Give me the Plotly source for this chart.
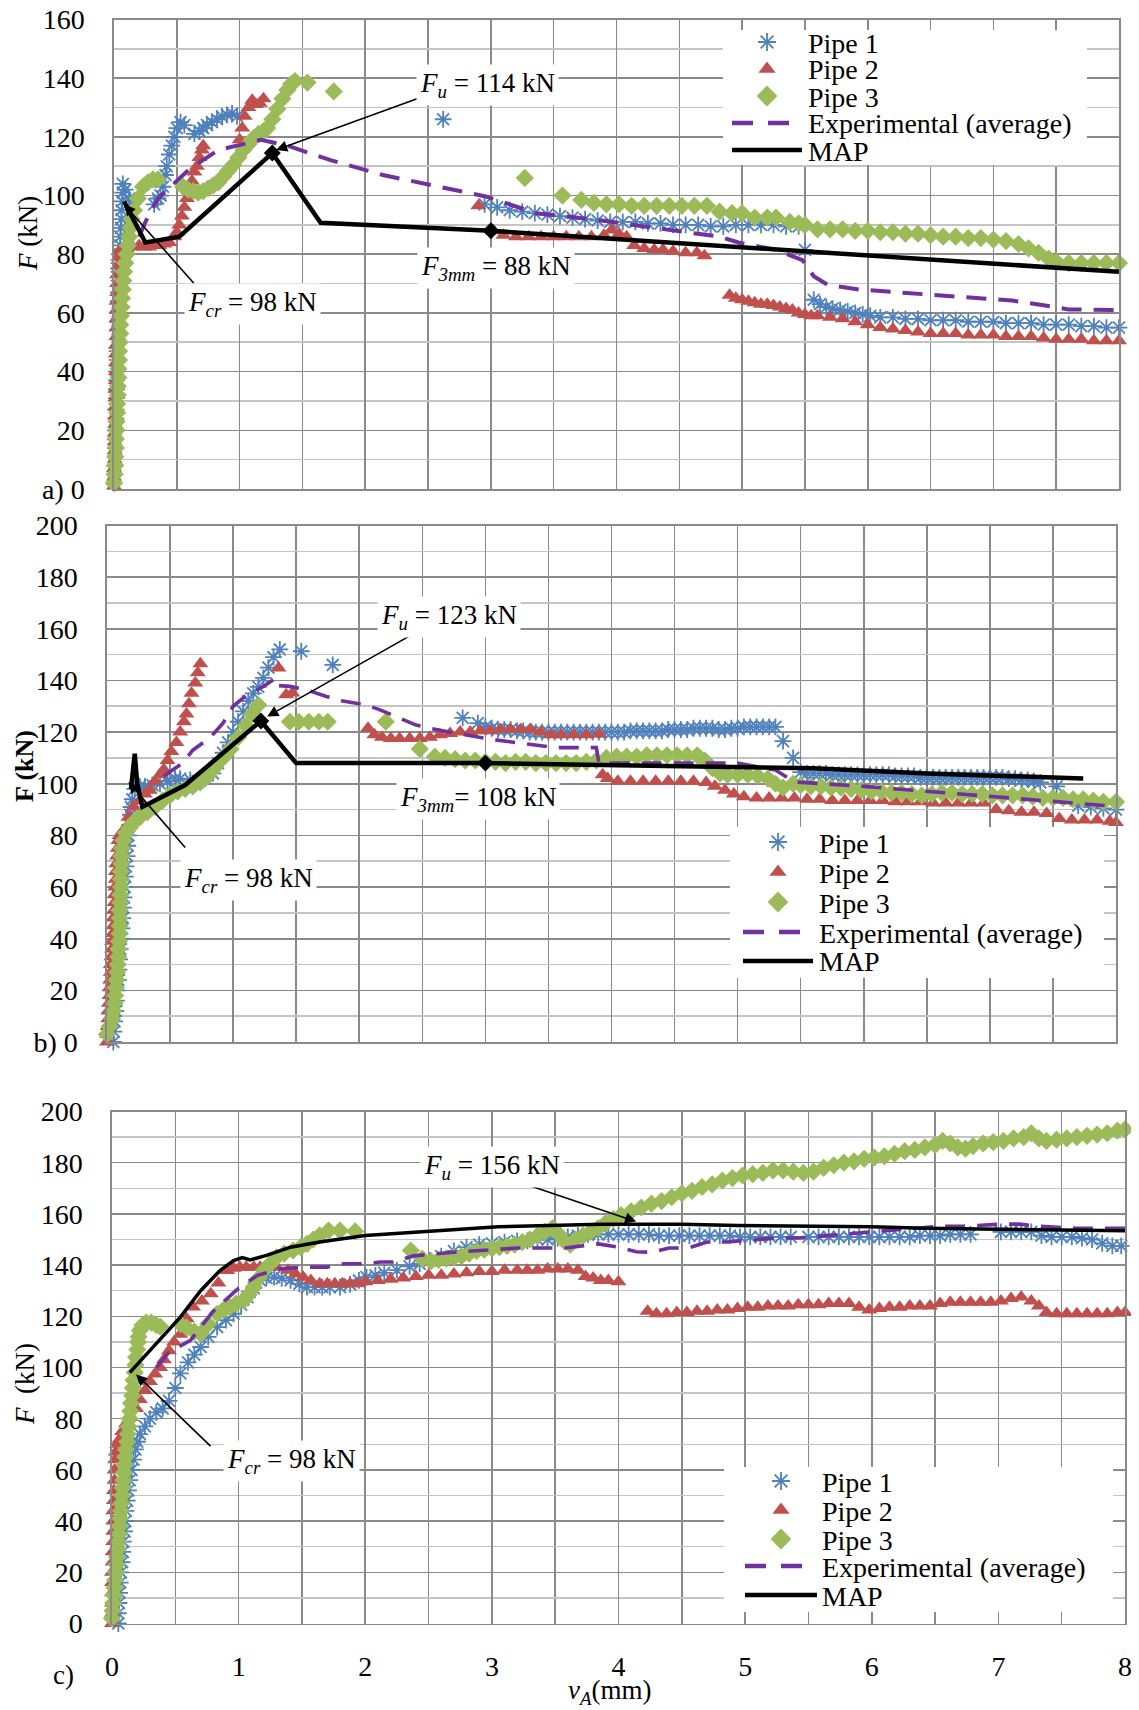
import plotly.graph_objects as go

W, H = 1139, 1710
OFF = 8  # default page margin of the html body, compensated so page pixels match the reference
SERIF = "Liberation Serif"
BLUE, RED, GREEN, PURPLE = "#4F81BD", "#C0504D", "#9BBB59", "#7030A0"
GRID_D, GRID_L = "#8A8A8A", "#C4C4C4"

# ---------------- data: panel a ----------------
A_PIPE1 = [(0.0,2),(0.005,5),(0.005,8),(0.01,11),(0.01,14),(0.01,17),(0.01,20),(0.015,24),(0.015,27),(0.02,31),(0.02,34),
           (0.02,37),(0.02,40),(0.025,44),(0.025,47),(0.03,51),(0.03,54),(0.03,57),(0.03,60),(0.035,64),(0.035,67),
           (0.04,71),(0.04,74),(0.04,77),(0.045,80),(0.05,83),(0.05,86),(0.055,89),(0.06,92),(0.06,95),(0.065,98),
           (0.07,101),(0.07,104),(0.09,102),(0.12,99),(0.15,97),
           (0.32,97),(0.35,99),(0.37,100),(0.39,103),(0.41,107),(0.42,110),(0.44,114),(0.46,117),(0.48,120),(0.5,123),
           (0.53,125),(0.56,124),(0.64,121),(0.68,122),(0.71,123),(0.74,124),(0.78,125),(0.82,126),(0.86,127),(0.9,127.5),
           (0.94,128),(0.98,127),(2.62,126),
           (2.95,97),(3.05,96),(3.15,95),(3.25,94.5),(3.35,94),(3.45,93.5),(3.55,93),(3.65,92.5),(3.75,92),(3.85,91.5),
           (3.95,91),(4.05,91),(4.15,91),(4.25,90.5),(4.35,90.5),(4.45,90),(4.55,90),(4.65,90),(4.75,89.5),(4.85,89.5),
           (4.95,90),(5.05,90),(5.15,90),(5.25,90),(5.35,89.5),(5.45,89.5),(5.5,81.5),
           (5.57,64.5),(5.62,63),(5.67,62),(5.72,61.5),(5.78,61),(5.84,60.5),(5.9,60),(5.96,59.5),(6.02,59),(6.1,58.5),
           (6.2,58.5),(6.3,58),(6.4,58),(6.5,57.5),(6.6,57.5),(6.7,57.5),(6.8,57),(6.9,57),(7.0,57),(7.1,56.5),(7.2,56.5),
           (7.3,56.5),(7.4,56),(7.5,56),(7.6,56),(7.7,55.5),(7.8,55.5),(7.9,55),(8.0,55)]
A_PIPE2 = [(0.0,1),(0.0,4),(0.0,7),(0.005,10),(0.005,13),(0.005,16),(0.005,19),(0.01,22),(0.01,25),(0.01,28),(0.01,31),
           (0.01,34),(0.015,37),(0.015,40),(0.015,43),(0.015,46),(0.015,49),(0.02,52),(0.02,55),(0.02,58),(0.02,61),
           (0.02,64),(0.025,67),(0.025,70),(0.025,73),(0.03,76),(0.035,79),(0.04,81),(0.07,82),(0.1,82),(0.15,82.5),
           (0.2,83),(0.24,82.5),(0.28,82.5),(0.32,83),(0.36,83),(0.4,83.5),(0.44,84),(0.48,86),(0.5,87.5),(0.52,90),
           (0.54,93),(0.56,96),(0.58,99),(0.6,102),(0.62,105),(0.64,108),(0.66,110),(0.68,113),(0.7,115.5),(0.71,117),
           (1.0,119),(1.02,123),(1.04,127),(1.07,130),(1.1,132.5),(1.13,131),(1.16,131.5),(1.19,133),
           (2.9,96.5),(3.02,88),(3.1,86.5),(3.2,86),(3.3,86),(3.4,86),(3.5,86),(3.6,86),(3.7,86),(3.8,86),(3.9,86.5),
           (3.96,88.3),(4.02,87),(4.08,86),(4.14,83),(4.22,82),(4.3,81.5),(4.37,81.5),(4.45,81),(4.55,80.5),(4.64,80.5),
           (4.7,79.5),
           (4.9,66),(4.95,65),(5.0,64.5),(5.05,64),(5.1,63.5),(5.15,63),(5.2,63),(5.25,62.5),(5.3,62),(5.35,61.5),
           (5.4,61),(5.45,60),(5.5,59.5),(5.55,59),(5.6,59),(5.7,58.5),(5.8,58),(5.9,57),(6.0,56),(6.1,55),(6.2,54.5),
           (6.3,54),(6.4,53.5),(6.5,53),(6.6,53),(6.7,53),(6.8,52.5),(6.9,52.5),(7.0,52.5),(7.1,52),(7.2,52),(7.3,52),
           (7.4,51.5),(7.5,51),(7.6,51),(7.7,51),(7.8,50.5),(7.9,50.5),(8.0,50.5)]
A_PIPE3 = [(0.0,2),(0.005,5),(0.01,8),(0.01,11),(0.015,14),(0.015,17),(0.02,20),(0.02,23),(0.025,26),(0.025,29),
           (0.03,32),(0.03,35),(0.035,38),(0.035,41),(0.04,44),(0.04,47),(0.045,50),(0.05,53),(0.05,56),(0.055,59),
           (0.06,62),(0.065,65),(0.07,68),(0.075,71),(0.08,74),(0.09,77),(0.1,80),(0.11,83),(0.12,86),(0.13,89),
           (0.14,92),(0.16,95),(0.19,99),(0.23,103),(0.27,104.5),(0.31,105.5),(0.35,105.5),
           (0.55,103),(0.59,102),(0.63,101.5),(0.67,101),(0.71,101.5),(0.75,102.5),(0.79,103.5),(0.83,104.5),(0.87,106.5),
           (0.91,108.5),(0.95,110.5),(0.99,113),(1.03,115.5),(1.07,117.5),(1.11,119.5),(1.15,121),(1.19,122),(1.22,123),
           (1.26,126),(1.3,129.5),(1.34,133),(1.38,136),(1.41,138),(1.44,139),(1.54,138.5),(1.75,135.5),
           (3.27,106),(3.57,100),(3.72,98.5),(3.82,97.5),(3.92,97),(4.02,97),(4.12,96.5),(4.22,96.5),(4.32,96.5),
           (4.42,96.5),(4.52,96.5),(4.62,96.5),(4.72,96.5),(4.82,94.5),(4.92,94),(5.0,94),(5.1,92.5),(5.2,92.5),
           (5.27,92.5),(5.38,91),(5.45,90.5),(5.5,90),(5.6,88.5),(5.7,88.5),(5.8,88.5),(5.9,88),(6.0,88),(6.1,87.5),
           (6.2,87.5),(6.3,87),(6.4,87),(6.5,86.5),(6.6,86),(6.7,86),(6.8,85.5),(6.9,85.5),(7.0,85),(7.1,84.5),(7.2,83.5),
           (7.28,82),(7.36,80.5),(7.44,78.5),(7.5,77.5),(7.6,77),(7.7,77),(7.8,77),(7.9,77),(8.0,77)]
A_EXP = [(0.2,86),(0.25,91),(0.35,99),(0.6,109),(0.83,115.5),(1.17,119),(1.38,117),
         (1.73,112),(2.14,107),(2.96,99.7),(3.36,94),(3.85,91.7),(4.3,89),(4.82,86),(4.97,84),(5.27,81.5),(5.48,78),
         (5.57,72.5),(5.68,69.6),(5.93,68),(6.31,66.8),(6.76,65.3),(7.15,64.2),(7.36,62.9),(7.6,61.2),(8.0,61)]
A_MAP = [(0.08,98),(0.25,84),(0.52,86),(1.26,114.5),(1.645,90.7),(3.0,88),(8.0,74)]
A_KEY = [(1.26,114.5),(3.0,88)]

# ---------------- data: panel b ----------------
B_PIPE1 = [(0.05,0),(0.055,4),(0.06,8),(0.07,12),(0.075,16),(0.08,20),(0.09,24),(0.095,28),(0.1,32),(0.105,36),
           (0.11,40),(0.12,44),(0.125,48),(0.13,52),(0.135,56),(0.14,60),(0.145,64),(0.15,68),(0.16,72),(0.165,76),
           (0.17,80),(0.18,84),(0.185,88),(0.19,91),(0.2,94),(0.22,98),(0.26,99),(0.3,99),(0.36,99.5),(0.42,100),
           (0.48,101),(0.54,102),(0.58,102),(0.66,101.5),(0.72,101),(0.78,102),(0.84,104),(0.88,108),(0.92,112),
           (0.96,116),(1.0,120),(1.04,124),(1.08,128),(1.12,132),(1.16,135),(1.2,137.5),(1.24,141),(1.28,145),
           (1.32,149),(1.37,152),(1.54,151.3),(1.79,146),
           (2.82,125.5),(2.94,123.5),(3.0,122),(3.05,121.5),(3.1,121),(3.15,121),(3.2,121),(3.25,120.5),(3.3,120.5),
           (3.35,120),(3.4,120),(3.45,120),(3.5,120),(3.55,120),(3.6,120),(3.65,120),(3.7,120),(3.75,120),(3.8,120),
           (3.85,120),(3.9,120),(3.95,120),(4.0,120),(4.05,120),(4.1,120),(4.15,120.5),(4.2,120.5),(4.25,120.5),
           (4.3,120.5),(4.35,120.5),(4.4,120.5),(4.45,121),(4.5,121),(4.55,121),(4.6,121),(4.65,121.5),(4.7,121.5),
           (4.75,121.5),(4.8,121.5),(4.85,121),(4.9,121),(4.95,121.5),(5.0,121.5),(5.05,122),(5.1,122),(5.15,122),
           (5.2,122),(5.25,122),(5.3,122),(5.36,116.5),(5.44,110),(5.5,104.5),
           (5.55,104),(5.6,104),(5.65,104),(5.7,104),(5.75,103.5),(5.8,103.5),(5.85,103.5),(5.9,103.5),(5.95,103.5),
           (6.0,103.5),(6.05,103.5),(6.1,103.5),(6.15,103.5),(6.2,103.5),(6.25,103),(6.3,103),(6.35,103),(6.4,103),
           (6.45,102.5),(6.5,102.5),(6.55,102.5),(6.6,102.5),(6.65,102.5),(6.7,102.5),(6.75,102.5),(6.8,102.5),
           (6.85,102.5),(6.9,102.5),(6.95,102.5),(7.0,102.5),(7.05,102.5),(7.1,102.5),(7.15,102),(7.2,102),(7.25,101.5),
           (7.3,101.5),(7.35,101),(7.4,100.5),(7.53,99),(7.7,91.5),(7.8,91),(7.9,90.5),(8.0,90)]
B_PIPE2 = [(0.0,0),(0.0,3),(0.005,6),(0.01,9),(0.01,12),(0.015,15),(0.02,18),(0.02,21),(0.025,24),(0.03,27),(0.03,30),
           (0.035,33),(0.04,36),(0.04,39),(0.045,42),(0.05,45),(0.05,48),(0.055,51),(0.06,54),(0.06,57),(0.065,60),
           (0.07,63),(0.07,66),(0.075,69),(0.08,72),(0.085,75),(0.09,78),(0.1,80),(0.13,82),(0.17,87),(0.21,91),
           (0.26,93.5),(0.3,96),(0.34,97.5),(0.38,101),(0.42,103.5),(0.45,105.5),(0.48,109),(0.51,112.5),(0.55,116),
           (0.58,120),(0.61,124),(0.63,127),(0.65,131),(0.67,135),(0.7,139),(0.72,143),(0.74,146.5),
           (1.36,144.8),(1.42,134.5),(1.47,135.1),
           (2.07,121.5),(2.12,119),(2.18,118),(2.25,117.5),(2.32,117.5),(2.4,117.5),(2.48,117.5),(2.56,118),(2.64,119),
           (2.72,119.5),(2.8,120),(2.88,120),(2.96,120.5),(3.04,120.5),(3.12,121),(3.2,121),(3.28,121),(3.36,121),
           (3.44,120),(3.52,119),(3.6,119),(3.7,119),(3.8,119),(3.9,119.3),
           (3.93,103.5),(3.97,102),(4.05,101),(4.15,101),(4.25,101),(4.35,101),(4.45,101),(4.55,101),(4.65,101),
           (4.75,100.5),(4.82,99),(4.9,97.5),(4.97,96),(5.05,95),(5.15,94.5),(5.25,94.5),(5.35,94.5),(5.45,94.5),
           (5.55,94),(5.65,94),(5.75,93.5),(5.85,93.5),(5.95,93.5),(6.05,93.5),(6.15,93.5),(6.25,93),(6.35,93),(6.45,93),
           (6.55,92.5),(6.65,92.5),(6.75,92.5),(6.85,92.5),(6.95,92.5),(7.05,90),(7.15,89.5),(7.25,89),(7.35,89),
           (7.45,88.5),(7.55,86.5),(7.65,86),(7.75,86),(7.85,86),(7.95,85.5),(8.0,85)]
B_PIPE3 = [(0.0,3),(0.02,6),(0.04,9),(0.05,12),(0.06,15),(0.065,18),(0.07,21),(0.075,24),(0.08,27),(0.085,30),
           (0.09,33),(0.09,36),(0.095,39),(0.1,42),(0.1,45),(0.1,48),(0.1,51),(0.105,54),(0.105,57),(0.11,60),(0.11,63),
           (0.11,66),(0.115,69),(0.115,72),(0.12,75),(0.13,78),(0.15,81),(0.18,83),(0.2,84.5),(0.23,86),(0.26,87),
           (0.32,89),(0.38,91),(0.44,93.5),(0.5,95.5),(0.56,97),(0.62,98),(0.68,99),(0.74,100.5),(0.8,103),(0.86,106.5),
           (0.92,110),(0.98,113.5),(1.04,118),(1.1,122.5),(1.15,127),(1.2,130.5),
           (1.45,124),(1.52,124),(1.6,124),(1.68,124),(1.75,124),(2.21,124),(2.48,113.5),(2.6,110.5),(2.68,110),
           (2.76,109.5),(2.84,109),(2.92,109),(3.0,108.5),(3.08,108.5),(3.16,108),(3.24,108.5),(3.32,108.5),(3.4,108),
           (3.48,108),(3.56,108),(3.64,108),(3.72,108),(3.8,108.5),(3.88,109),(3.96,110),(4.04,110.5),(4.12,110.5),
           (4.2,110.5),(4.28,111),(4.36,111),(4.44,111),(4.52,111),(4.6,111),(4.68,111),(4.74,109),(4.8,106),(4.86,104),
           (4.92,103.5),(5.0,103.5),(5.08,103.5),(5.16,103),(5.24,102),(5.3,100),(5.36,98.5),(5.44,100),(5.5,99.5),
           (5.58,99),(5.66,99),(5.74,98.5),(5.82,98.5),(5.9,98),(5.98,97.5),(6.06,97),(6.14,97),(6.22,96.5),(6.3,96.5),
           (6.38,96),(6.46,95.5),(6.54,96),(6.62,96.5),(6.7,96.5),(6.78,96),(6.86,96),(6.94,96),(7.02,95.5),(7.1,95.5),
           (7.18,95.5),(7.26,95.5),(7.34,95),(7.42,94.5),(7.5,94.5),(7.58,94.5),(7.66,94),(7.74,94),(7.82,93.5),
           (7.9,93),(8.0,93)]
B_EXP = [(0.45,103),(0.6,108),(0.68,113),(0.82,118),(0.92,123.5),(1.0,130),(1.1,134),
         (1.24,137.7),(1.34,141),(1.36,138),(1.45,137.7),(1.58,136.4),(1.74,133.8),(1.87,132),(2.05,130.6),(2.16,128.7),
         (2.45,122.7),(2.64,120.7),(3.03,117.3),(3.24,116),(3.55,114),(3.88,114),(3.9,108),(4.76,108),(5.0,108),
         (5.3,105.3),(5.45,100.7),(6.0,99),(6.6,96.7),(7.5,93.3),(7.98,91.3)]
B_MAP = [(0.19,98),(0.22,111.6),(0.24,100),(0.28,91),(0.62,99.5),(1.22,124.3),(1.5,108),(3.0,108),(4.3,107),
         (5.6,106),(6.5,104),(7.74,102)]
B_KEY = [(1.22,124.3),(3.0,108)]

# ---------------- data: panel c ----------------
C_PIPE1 = [(0.05,0),(0.05,4),(0.055,8),(0.06,12),(0.065,16),(0.07,20),(0.08,24),(0.085,28),(0.09,32),(0.1,36),
           (0.105,40),(0.11,44),(0.12,48),(0.13,52),(0.14,56),(0.155,60),(0.17,64),(0.185,68),(0.2,71),(0.22,74),
           (0.26,77),(0.3,80),(0.35,82.5),(0.4,84),(0.45,87),(0.5,92),(0.54,97.7),
           (0.6,102),(0.65,105),(0.7,108),(0.76,112),(0.83,115.8),(0.9,118.5),(0.96,121),(1.02,124.5),(1.07,127.5),
           (1.12,131),(1.17,134),(1.22,135),(1.28,135.3),(1.34,134.8),(1.41,134),(1.48,132.7),(1.54,131.4),(1.6,131.4),
           (1.66,131.4),(1.72,131.4),(1.8,131.4),(1.88,132.5),(1.95,134),(2.01,135.3),(2.08,136),(2.15,137),(2.25,138),
           (2.35,139.5),(2.43,140.5),(2.51,141.8),(2.6,143.5),(2.7,145.5),(2.8,147),(2.9,148),(3.0,148.5),(3.1,149),
           (3.2,149.5),(3.28,149.5),(3.36,150),(3.44,150),(3.52,150.5),(3.6,151),(3.68,151.5),(3.76,152),(3.84,152),
           (3.92,152),(4.0,152),(4.08,152),(4.16,152),(4.24,152),(4.32,151.5),(4.4,151.5),(4.48,151.5),(4.56,151.5),
           (4.64,151.5),(4.72,151.5),(4.8,151.5),(4.88,151.5),(4.96,151),(5.04,151),(5.12,151),(5.2,151),(5.28,151),
           (5.36,151),(5.5,151),(5.58,151),(5.66,151),(5.74,151),(5.82,151),(5.9,151),(5.98,151),(6.06,151),(6.14,151),
           (6.22,151),(6.3,151),(6.38,151.5),(6.46,151.5),(6.54,151.5),(6.62,152),(6.7,152),(6.78,152),(7.02,153),
           (7.1,153),(7.18,153),(7.26,153),(7.34,151.5),(7.42,151),(7.5,151),(7.58,151),(7.66,150.5),(7.74,150),
           (7.82,148.5),(7.9,147.5),(7.97,147.5)]
C_PIPE2 = [(0.0,0),(0.0,4),(0.0,8),(0.0,12),(0.0,16),(0.0,20),(0.005,24),(0.005,28),(0.01,32),(0.01,36),(0.01,40),
           (0.01,44),(0.015,48),(0.015,52),(0.02,56),(0.02,60),(0.025,64),(0.03,67),(0.04,70),(0.06,72),(0.08,75),
           (0.11,78),(0.15,80.5),(0.19,84),(0.22,87.5),
           (0.26,91),(0.3,94.5),(0.34,97.5),(0.38,100),(0.41,103),(0.45,106.5),(0.49,110),(0.54,113),(0.59,119),
           (0.64,123.6),(0.71,126),(0.78,128.8),(0.84,133),(0.91,137.9),(0.96,138.8),(1.01,139.2),(1.06,139.2),
           (1.12,139.2),(1.17,139.2),(1.24,139.2),(1.3,139.2),(1.39,138),(1.45,136.5),(1.51,135.3),(1.57,134),
           (1.64,132.7),(1.7,132.7),(1.76,132.7),(1.82,132.7),(1.88,132.7),(1.94,132.7),(2.0,133.5),(2.1,134),(2.2,134.5),
           (2.3,135),(2.4,135.5),(2.5,136),(2.6,136),(2.7,136.5),(2.8,137),(2.9,137.5),(3.0,137.5),(3.1,138),(3.2,138),
           (3.28,138),(3.36,138),(3.44,138.5),(3.52,138.5),(3.6,138.5),(3.68,138),(3.74,135.5),(3.8,135),(3.86,134),
           (3.92,134),(4.0,133.5),
           (4.23,122),(4.3,121),(4.38,121),(4.46,121.5),(4.54,121.5),(4.62,122),(4.7,122),(4.78,122.5),(4.86,122.5),
           (4.94,123),(5.02,123.5),(5.1,123.5),(5.18,124),(5.26,124),(5.34,124),(5.42,124.5),(5.5,124.5),(5.58,124.5),
           (5.66,125),(5.74,125),(5.82,125),(5.9,123.5),(5.98,122.5),(6.06,123),(6.14,123.5),(6.22,123.5),(6.3,124),
           (6.38,124),(6.46,124),(6.54,125),(6.62,125.5),(6.7,125.5),(6.78,125.5),(6.86,125.5),(6.94,125.5),(7.02,126),
           (7.1,127),(7.18,127.5),(7.26,126),(7.32,124),(7.38,121.5),(7.46,121),(7.54,121),(7.62,121),(7.7,121),
           (7.78,121),(7.86,121),(7.94,121.5),(8.0,121.5)]
C_PIPE3 = [(0.0,2),(0.005,5),(0.01,8),(0.015,11),(0.02,14),(0.025,17),(0.03,20),(0.035,23),(0.04,26),(0.045,29),
           (0.05,32),(0.055,35),(0.06,38),(0.065,41),(0.07,44),(0.075,47),(0.08,50),(0.085,53),(0.09,56),(0.095,59),
           (0.1,62),(0.105,65),(0.11,68),(0.12,71),(0.125,74),(0.13,77),(0.14,80),(0.145,83),(0.15,86),(0.16,89),
           (0.165,92),(0.17,95),(0.18,98),(0.185,101),(0.19,104),(0.2,107),(0.205,110),(0.21,112),(0.22,114.5),
           (0.24,116.5),(0.27,117.5),(0.31,117.5),(0.35,116.5),(0.38,116),
           (0.54,117),(0.59,115.6),(0.65,114),(0.7,113.2),(0.76,117),(0.83,121),(0.88,122.5),(0.93,123.6),(0.98,125),
           (1.04,126.2),(1.08,128.5),(1.12,131.4),(1.16,135),(1.2,138),(1.25,140.5),(1.3,143),(1.36,144.5),(1.43,145.7),
           (1.49,147),(1.54,148.3),(1.59,150),(1.64,151.6),(1.71,153.5),(1.8,153.5),(1.92,153.2),
           (2.36,145.7),(2.45,142.5),(2.52,141.5),(2.58,142),(2.64,142.5),(2.7,143),(2.76,143.5),(2.82,144.5),
           (2.88,145.5),(2.94,146),(3.0,146.5),(3.06,147),(3.12,147.5),(3.18,148),(3.24,149),(3.3,150),(3.36,151.5),
           (3.42,153),(3.48,154.5),(3.53,152),(3.57,149.5),(3.62,148),(3.66,150),(3.72,151.5),(3.78,153),(3.84,154.5),
           (3.9,156.5),(3.96,158),(4.02,159.5),(4.1,161),(4.18,162.5),(4.26,164),(4.34,165),(4.42,166.5),(4.5,168),
           (4.58,169),(4.66,170.5),(4.74,171.5),(4.82,173),(4.9,174),(4.98,175),(5.06,175.5),(5.14,176),(5.22,177),
           (5.3,177),(5.38,176.5),(5.46,176),(5.54,176.5),(5.62,178),(5.7,179),(5.78,180),(5.86,180.5),(5.94,181.5),
           (6.02,182),(6.1,182.5),(6.18,183.5),(6.26,184.5),(6.34,185),(6.42,186),(6.5,187),(6.56,188.5),(6.62,187.5),
           (6.68,186),(6.74,185.5),(6.8,186.5),(6.88,187.5),(6.96,188),(7.04,188.5),(7.12,189.5),(7.2,190),(7.26,191.5),
           (7.32,189.5),(7.38,188.5),(7.46,189),(7.54,189.5),(7.62,190),(7.7,190.5),(7.78,191),(7.86,191.5),(7.94,192.5),
           (8.0,193)]
C_EXP = [(0.35,100),(0.45,106),(0.62,110.6),(0.8,122),(1.0,131),(1.15,136),(1.33,138.6),
         (1.54,139.2),(1.7,139.2),(1.83,140.5),(1.99,140.5),(2.12,141.2),(2.22,141.2),(2.38,143.6),(2.7,145),(3.2,146.7),
         (3.58,146.7),(3.84,148.3),(4.0,147),(4.14,145.2),(4.26,145),(4.4,146.7),(4.55,146.7),(4.7,149),(4.85,149),
         (5.24,150.6),(5.42,150.6),(6.0,153),(6.54,155.2),(6.72,155.2),(7.02,156),(7.17,156),(7.31,155.2),(7.6,154.4),
         (8.0,154.4)]
C_MAP = [(0.14,98),(0.27,105),(0.54,119.7),(0.7,130),(0.855,138),(0.96,141.8),(1.03,142.9),
         (1.09,142),(1.22,143.8),(1.41,147),(1.64,149),(2.0,151.6),(2.59,153.5),(3.05,155),(3.86,156),(4.5,156),
         (4.94,155.5),(6.0,155),(6.42,154.4),(7.02,154.1),(8.0,153.4)]
C_KEY = []

X_TICKS = [0, 1, 2, 3, 4, 5, 6, 7, 8]
A_YTICKS = [0, 20, 40, 60, 80, 100, 120, 140, 160]
B_YTICKS = [0, 20, 40, 60, 80, 100, 120, 140, 160, 180, 200]
C_YTICKS = B_YTICKS
LEGEND_NAMES = ["Pipe 1", "Pipe 2", "Pipe 3", "Experimental (average)", "MAP"]


def xs(p):
    return [v[0] for v in p]


def ys(p):
    return [v[1] for v in p]


def pxx(px):
    return (px - OFF) / W


def pxy(py):
    return 1 - (py - OFF) / H


# ---------------- layout geometry (page pixels) ----------------
BOX = {"a": (114, 1119, 19.5, 489), "b": (107, 1116, 525.5, 1042), "c": (112, 1125, 1111.5, 1623.5)}
LEG = {
    "a": dict(box=(723, 1087, 30, 165), rows=[42, 69, 96, 123, 150], sym=767, line=(732, 789, 802), text=806),
    "b": dict(box=(730, 1104, 827, 978), rows=[842, 872, 902, 932, 961], sym=778, line=(743, 800, 813), text=817),
    "c": dict(box=(724, 1113, 1467, 1612), rows=[1481, 1510, 1539, 1566, 1595], sym=781, line=(745, 802, 817), text=820),
}
FU = "<i>F</i><sub><i>u</i></sub>"
FCR = "<i>F</i><sub><i>cr</i></sub>"
F3 = "<i>F</i><sub><i>3mm</i></sub>"
NOTES = {
    "a": dict(labels=[(FU + " = 114 kN", 2.97, 137.6), (FCR + " = 98 kN", 1.10, 62.9), (F3 + " = 88 kN", 3.04, 75.3)],
              arrows=[((1.29, 115.5), (2.49, 134.2)), ((0.08, 97.0), (0.646, 69.6))]),
    "b": dict(labels=[(FU + " = 123 kN", 2.71, 164.7), (FCR + " = 98 kN", 1.12, 62.7), (F3 + "= 108 kN", 2.94, 94.0)],
              arrows=[((1.27, 126.0), (2.50, 160.0)), ((0.17, 100.7), (0.63, 74.7))]),
    "c": dict(labels=[(FU + " = 156 kN", 3.0, 178.4), (FCR + " = 98 kN", 1.42, 63.3)],
              arrows=[((4.14, 157.0), (3.23, 172.2)), ((0.19, 97.3), (0.79, 68.7))]),
}

fig = go.Figure()
panels = [("a", "", A_PIPE1, A_PIPE2, A_PIPE3, A_EXP, A_MAP, A_KEY, A_YTICKS),
          ("b", "2", B_PIPE1, B_PIPE2, B_PIPE3, B_EXP, B_MAP, B_KEY, B_YTICKS),
          ("c", "3", C_PIPE1, C_PIPE2, C_PIPE3, C_EXP, C_MAP, C_KEY, C_YTICKS)]

layout_axes = {}
annotations = []
for name, s, p1, p2, p3, ex, mp, key, yt in panels:
    xa, ya = "x" + s, "y" + s
    l, r, t, b = BOX[name]
    ymax = yt[-1]
    common = dict(xaxis=xa, yaxis=ya, cliponaxis=False, showlegend=False, hoverinfo="skip")

    # legend white box (drawn first: above the grid, below the data)
    lg = LEG[name]
    bx0, bx1, by0, by1 = lg["box"]
    dx = lambda px: (px - l) / (r - l) * 8.0
    dy = lambda py: (b - py) / (b - t) * ymax
    fig.add_trace(go.Scatter(x=[dx(bx0), dx(bx1), dx(bx1), dx(bx0), dx(bx0)],
                             y=[dy(by0), dy(by0), dy(by1), dy(by1), dy(by0)],
                             mode="lines", fill="toself", fillcolor="white", line=dict(width=0, color="white"),
                             **common))

    fig.add_trace(go.Scatter(x=xs(p1), y=ys(p1), mode="markers",
                             marker=dict(symbol="asterisk-open", size=14, color=BLUE, line=dict(color=BLUE, width=1.8)),
                             **common))
    fig.add_trace(go.Scatter(x=xs(p2), y=ys(p2), mode="markers",
                             marker=dict(symbol="triangle-up", size=14, color=RED, line=dict(width=0)), **common))
    fig.add_trace(go.Scatter(x=xs(p3), y=ys(p3), mode="markers",
                             marker=dict(symbol="diamond", size=14, color=GREEN, line=dict(width=0)), **common))
    fig.add_trace(go.Scatter(x=xs(ex), y=ys(ex), mode="lines",
                             line=dict(color=PURPLE, width=4 if name == "a" else 3.6, dash="20px,12px"), **common))
    fig.add_trace(go.Scatter(x=xs(mp), y=ys(mp), mode="lines",
                             line=dict(color="black", width=4.5 if name != "c" else 3.5), **common))
    if key:
        fig.add_trace(go.Scatter(x=xs(key), y=ys(key), mode="markers",
                                 marker=dict(symbol="diamond", size=13, color="black"), **common))

    tt = [str(v) for v in yt]
    if name in ("a", "b"):
        tt[0] = name + ") 0"
    layout_axes["xaxis" + s] = dict(
        domain=[pxx(l), pxx(r)], range=[0, 8], anchor=ya, tickmode="array", tickvals=X_TICKS,
        showgrid=True, gridcolor=GRID_D, gridwidth=1.6, automargin=False, ticklabeloverflow="allow",
        minor=dict(tickmode="linear", tick0=0, dtick=0.5, showgrid=True, gridcolor=GRID_D, gridwidth=1.6),
        showline=True, mirror=True, linecolor=GRID_D, linewidth=1.6, zeroline=False, ticks="",
        showticklabels=(name == "c"), ticklabelstandoff=17,
        tickfont=dict(family=SERIF, size=28, color="black"), fixedrange=True)
    layout_axes["yaxis" + s] = dict(
        domain=[pxy(b), pxy(t)], range=[0, ymax], anchor=xa, tickmode="array", tickvals=yt, ticktext=tt,
        showgrid=True, gridcolor=GRID_D, gridwidth=1.6, automargin=False, ticklabeloverflow="allow",
        minor=dict(tickmode="linear", tick0=0, dtick=10, showgrid=True, gridcolor=GRID_L, gridwidth=1.6),
        showline=True, mirror=True, linecolor=GRID_D, linewidth=1.6, zeroline=False, ticks="",
        ticklabelstandoff=22, tickfont=dict(family=SERIF, size=28, color="black"), fixedrange=True)

    rows = lg["rows"]
    # legend keys on the page-pixel overlay axes
    fig.add_trace(go.Scatter(x=[lg["sym"]], y=[rows[0]], mode="markers", xaxis="x4", yaxis="y4", showlegend=False,
                             marker=dict(symbol="asterisk-open", size=15, color=BLUE, line=dict(color=BLUE, width=1.8)),
                             hoverinfo="skip"))
    fig.add_trace(go.Scatter(x=[lg["sym"]], y=[rows[1]], mode="markers", xaxis="x4", yaxis="y4", showlegend=False,
                             marker=dict(symbol="triangle-up", size=15, color=RED), hoverinfo="skip"))
    fig.add_trace(go.Scatter(x=[lg["sym"]], y=[rows[2]], mode="markers", xaxis="x4", yaxis="y4", showlegend=False,
                             marker=dict(symbol="diamond", size=16, color=GREEN), hoverinfo="skip"))
    lx0, lx1, lx2 = lg["line"]
    fig.add_trace(go.Scatter(x=[lx0, lx1], y=[rows[3], rows[3]], mode="lines", xaxis="x4", yaxis="y4",
                             showlegend=False, line=dict(color=PURPLE, width=4.5, dash="21px,15px"), hoverinfo="skip"))
    fig.add_trace(go.Scatter(x=[lx0, lx2], y=[rows[4], rows[4]], mode="lines", xaxis="x4", yaxis="y4",
                             showlegend=False, line=dict(color="black", width=4.5), hoverinfo="skip"))
    for txt, ry in zip(LEGEND_NAMES, rows):
        annotations.append(dict(text=txt, x=pxx(lg["text"]), y=pxy(ry + 1), xref="paper", yref="paper",
                                xanchor="left", yanchor="middle", showarrow=False,
                                font=dict(family=SERIF, size=28, color="black")))

    # value labels and arrows
    for (hx, hy), (tx, ty) in NOTES[name]["arrows"]:
        annotations.append(dict(x=hx, y=hy, ax=tx, ay=ty, xref=xa, yref=ya, axref=xa, ayref=ya, text="",
                                showarrow=True, arrowhead=2, arrowsize=1.4, arrowwidth=1.6, arrowcolor="black",
                                standoff=0, startstandoff=0))
    for txt, lx, ly in NOTES[name]["labels"]:
        annotations.append(dict(x=lx, y=ly, xref=xa, yref=ya, text=txt, showarrow=False, bgcolor="white",
                                xanchor="center", yanchor="middle", borderpad=3,
                                font=dict(family=SERIF, size=27, color="black")))


def page_text(txt, px, py, angle=0, size=27):
    return dict(text=txt, x=pxx(px), y=pxy(py), xref="paper", yref="paper", textangle=angle,
                xanchor="center", yanchor="middle", showarrow=False,
                font=dict(family=SERIF, size=size, color="black"))


annotations.append(page_text("<i>F</i> (kN)", 28, 234, -90))
annotations.append(page_text("<b>F (kN)</b>", 24, 766, -90, 26))
annotations.append(page_text("<i>F</i>&nbsp; (kN)", 25, 1384, -90))
annotations.append(page_text("<i>v</i><sub><i>A</i></sub>(mm)", 610, 1692))
annotations.append(page_text("c)", 63, 1675))

# overlay axes in page pixels (used only for the legend keys)
layout_axes["xaxis4"] = dict(domain=[0, 1], range=[OFF, W + OFF], anchor="y4", visible=False, fixedrange=True,
                             automargin=False)
layout_axes["yaxis4"] = dict(domain=[0, 1], range=[H + OFF, OFF], anchor="x4", visible=False, fixedrange=True,
                             automargin=False)

fig.update_layout(
    width=W, height=H, margin=dict(l=0, r=0, t=0, b=0, pad=0, autoexpand=False), autosize=False,
    paper_bgcolor="white", plot_bgcolor="rgba(0,0,0,0)",
    showlegend=False, annotations=annotations, dragmode=False, hovermode=False,
    font=dict(family=SERIF, size=27, color="black"),
    **layout_axes)

fig.write_html("out.html", config={"staticPlot": True, "displayModeBar": False, "responsive": False})
